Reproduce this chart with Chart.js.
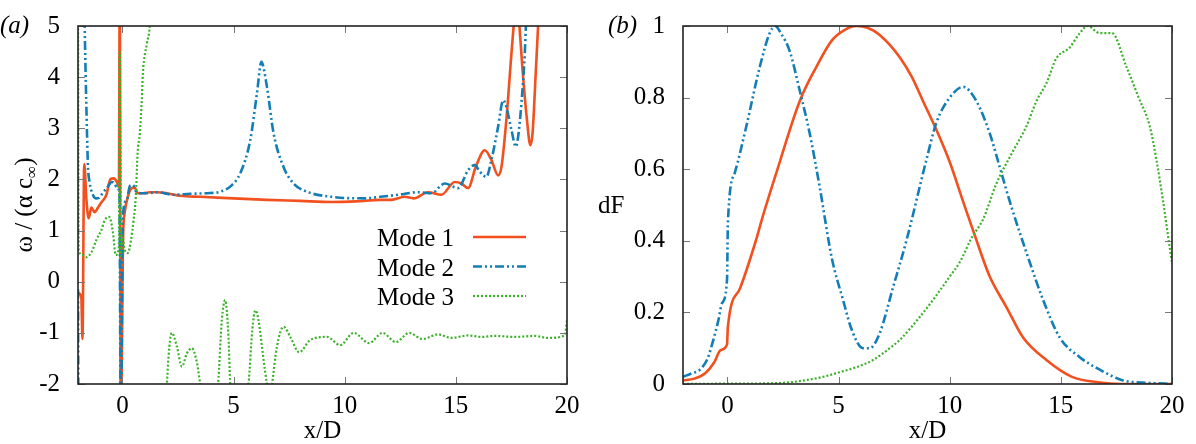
<!DOCTYPE html>
<html>
<head>
<meta charset="utf-8">
<script src="https://cdn.jsdelivr.net/npm/chart.js@4.4.1/dist/chart.umd.min.js"></script>
<style>
  html, body { margin: 0; padding: 0; background: #fff; }
  #wrap { position: relative; width: 1196px; height: 444px; }
  canvas { position: absolute; top: 0; }
  #chartA { left: 0; }
  #chartB { left: 590px; }
</style>
</head>
<body>
<div id="wrap">
  <canvas id="chartA" width="590" height="444"></canvas>
  <canvas id="chartB" width="606" height="444"></canvas>
</div>
<script>
const FONT = "'Liberation Serif', 'Times New Roman', serif";

// --- Series ---
const seriesNames = ['Mode 1', 'Mode 2', 'Mode 3'];
const seriesColors = ['#f2501e', '#137db5', '#3cb22a'];
const seriesDash = [[], [9, 3, 2, 3, 2, 3], [2, 2]];
const seriesWidth = [2.6, 2.6, 2.2];

// --- Ticks ---
const xTickValues = [0, 5, 10, 15, 20];
const omegaTickValues = [-2, -1, 0, 1, 2, 3, 4, 5];
const dfTickValues = [0, 0.2, 0.4, 0.6, 0.8, 1];

// --- Panel (a): omega / (alpha c_inf) ---
const omegaX1 = [-2, -1.85, -1.8, -1.72, -1.62, -1.52, -1.4, -1.25, -1.1, -0.95, -0.72, -0.55, -0.4, -0.25, -0.16, -0.12, -0.08, 0.03, 0.1, 0.24, 0.42, 0.55, 0.7, 0.93, 1.23, 1.55, 2.0, 2.6, 3.5, 5.0, 6.5, 8.0, 9.4, 10.5, 11.6, 12.1, 12.7, 13.1, 13.75, 14.35, 14.95, 15.25, 15.55, 15.9, 16.3, 16.6, 16.9, 17.05, 17.27, 17.5, 17.6, 17.7, 17.8, 17.86, 18.0, 18.2, 18.35, 18.45, 18.6, 18.7, 18.8];
const omegaY1 = [-0.22, -0.3, -1.12, 2.3, 1.6, 1.24, 1.45, 1.36, 1.45, 1.55, 1.7, 2.0, 2.02, 1.95, 1.85, 6, -3, 0.9, 1.35, 1.66, 1.83, 1.84, 1.73, 1.73, 1.75, 1.75, 1.73, 1.68, 1.66, 1.63, 1.6, 1.58, 1.56, 1.57, 1.6, 1.6, 1.66, 1.63, 1.75, 1.7, 1.95, 1.92, 1.83, 2.25, 2.57, 2.38, 2.08, 2.24, 3.16, 4.46, 5.0, 5.6, 5.4, 5.0, 4.14, 3.16, 2.67, 2.9, 4.14, 5.0, 6.0];

const omegaX2 = [-2, -1.98, -1.86, -1.74, -1.7, -1.63, -1.55, -1.48, -1.33, -1.2, -1.05, -0.87, -0.7, -0.48, -0.35, -0.26, -0.14, -0.07, 0.02, 0.2, 0.33, 0.47, 0.63, 0.9, 1.1, 1.55, 2.3, 3.05, 3.8, 4.4, 4.9, 5.3, 5.75, 6.05, 6.25, 6.5, 6.8, 7.25, 7.7, 8.3, 9.4, 10.9, 11.6, 12.4, 13.3, 13.9, 14.5, 15.1, 15.55, 15.85, 16.08, 16.37, 16.6, 16.9, 17.13, 17.27, 17.5, 17.7, 17.8, 17.95, 18.1, 18.15, 18.25];
const omegaY2 = [-0.15, -3, null, 6, 5, 3.55, 2.25, 1.95, 1.7, 1.63, 1.64, 1.75, 1.83, 1.95, 1.92, 1.85, 1.75, -3, 1.3, 1.6, 1.87, 1.89, 1.75, 1.73, 1.73, 1.75, 1.7, 1.72, 1.73, 1.76, 1.88, 2.12, 2.77, 3.68, 4.3, 3.81, 2.9, 2.24, 1.92, 1.76, 1.66, 1.63, 1.66, 1.7, 1.75, 1.73, 1.92, 1.83, 2.18, 2.28, 2.15, 2.05, 2.38, 3.03, 3.55, 3.42, 2.97, 2.64, 2.83, 3.49, 4.46, 5.0, 6.0];

const omegaX3 = [-2, -1.97, -1.8, -1.62, -1.39, -1.17, -0.95, -0.8, -0.6, -0.44, -0.3, -0.16, -0.12, -0.07, 0.0, 0.1, 0.24, 0.38, 0.5, 0.6, 0.68, 0.78, 0.87, 0.92, 1.1, 1.23, 1.3, 1.6, 1.95, 2.0, 2.22, 2.45, 2.67, 2.9, 3.12, 3.35, 3.5, 3.9, 4.3, 4.47, 4.62, 4.77, 4.85, 5.25, 5.67, 5.84, 5.98, 6.12, 6.35, 6.5, 6.62, 6.73, 6.95, 7.25, 7.55, 7.95, 8.45, 9.2, 9.8, 10.4, 11.1, 11.7, 12.3, 12.9, 13.5, 14.2, 14.8, 15.55, 16.15, 16.75, 17.65, 18.55, 19.15, 19.9, 20];
const omegaY3 = [5.5, 0.62, 0.52, 0.48, 0.58, 0.82, 1.01, 1.2, 1.27, 1.0, 0.52, 0.68, 4.5, 0.5, 0.9, 0.62, 0.56, 0.8, 1.2, 1.66, 2.5, 2.9, 3.55, 4.07, 4.66, 5.0, 5.6, null, -2.6, -2.0, -1.0, -1.27, -1.66, -1.4, -1.3, -1.58, -2.0, -2.8, -2.0, -0.75, -0.36, -1.08, -2.0, -2.8, -2.0, -0.95, -0.56, -0.75, -1.53, -2.0, -2.3, -2.0, -1.27, -0.88, -1.08, -1.38, -1.14, -1.08, -1.24, -1.0, -1.2, -1.0, -1.18, -1.0, -1.12, -1.03, -1.1, -1.05, -1.08, -1.06, -1.08, -1.06, -1.1, -1.05, -0.75];

// --- Panel (b): dF ---
const dfX1 = [-2, -1.5, -1, -0.6, -0.3, -0.02, 0.02, 0.55, 1.3, 1.55, 2.2, 3.25, 4.0, 4.7, 5.3, 5.8, 6.3, 6.85, 7.75, 8.3, 8.8, 9.4, 10.0, 10.6, 11.1, 11.8, 12.55, 13.3, 14.35, 15.5, 17, 18, 20];
const dfY1 = [0.01, 0.015, 0.03, 0.06, 0.095, 0.11, 0.16, 0.265, 0.405, 0.46, 0.59, 0.79, 0.886, 0.96, 0.99, 1.0, 0.995, 0.975, 0.913, 0.857, 0.79, 0.71, 0.62, 0.51, 0.42, 0.30, 0.215, 0.13, 0.067, 0.02, 0.003, 0, 0];

const dfX2 = [-2, -1.6, -1.24, -0.9, -0.65, -0.4, -0.25, -0.02, 0.02, 0.33, 0.85, 1.45, 1.9, 2.15, 2.4, 2.8, 3.25, 3.7, 4.15, 4.7, 5.2, 5.6, 6.1, 6.4, 6.85, 7.45, 8.05, 8.95, 9.4, 10.0, 10.6, 11.2, 11.8, 12.25, 12.7, 13.6, 14.2, 14.95, 15.85, 16.75, 17.8, 19, 20];
const dfY2 = [0.02, 0.03, 0.04, 0.07, 0.12, 0.18, 0.225, 0.29, 0.45, 0.59, 0.72, 0.885, 0.98, 1.0, 0.98, 0.93, 0.82, 0.70, 0.55, 0.35, 0.235, 0.15, 0.10, 0.10, 0.142, 0.27, 0.40, 0.626, 0.73, 0.80, 0.83, 0.79, 0.70, 0.606, 0.51, 0.34, 0.235, 0.13, 0.075, 0.04, 0.01, 0.003, 0];

const dfX3 = [-2, 0, 2.0, 3.0, 4.3, 5.05, 5.8, 6.55, 7.3, 7.75, 8.65, 9.25, 10.0, 10.45, 11.0, 11.5, 12.1, 12.8, 13.45, 13.9, 14.35, 14.8, 15.4, 15.85, 16.2, 16.75, 17.3, 17.95, 18.5, 19.0, 19.3, 19.6, 19.9, 20];
const dfY3 = [0, 0.001, 0.002, 0.006, 0.02, 0.033, 0.047, 0.067, 0.10, 0.123, 0.187, 0.235, 0.30, 0.34, 0.41, 0.46, 0.56, 0.645, 0.72, 0.79, 0.84, 0.91, 0.94, 0.98, 1.0, 0.98, 0.98, 0.886, 0.80, 0.72, 0.626, 0.51, 0.38, 0.34];

Chart.defaults.font.family = FONT;
Chart.defaults.font.size = 25;
Chart.defaults.color = '#000';

function buildDatasets(xs, ys) {
    return xs.map((xArr, i) => ({
        label: seriesNames[i],
        data: xArr.map((x, j) => ({ x: x, y: ys[i][j] })),
        borderColor: seriesColors[i],
        borderDash: seriesDash[i],
        borderWidth: seriesWidth[i],
        pointRadius: 0,
        fill: false,
        cubicInterpolationMode: 'monotone',
        spanGaps: false,
        clip: 0,
        order: 2 - i
    }));
}

// frame + inward ticks on all four sides (gnuplot style)
function drawFrame(chart) {
    const { ctx, chartArea: a, scales: { x, y } } = chart;
    ctx.save();
    ctx.strokeStyle = '#777';
    ctx.lineWidth = 1;
    ctx.beginPath();
    x.ticks.forEach(t => {
        const px = Math.round(x.getPixelForValue(t.value)) + 0.5;
        ctx.moveTo(px, a.bottom); ctx.lineTo(px, a.bottom - 7);
        ctx.moveTo(px, a.top); ctx.lineTo(px, a.top + 7);
    });
    y.ticks.forEach(t => {
        const py = Math.round(y.getPixelForValue(t.value)) + 0.5;
        ctx.moveTo(a.left, py); ctx.lineTo(a.left + 7, py);
        ctx.moveTo(a.right, py); ctx.lineTo(a.right - 7, py);
    });
    ctx.stroke();
    ctx.strokeStyle = '#222';
    ctx.lineWidth = 1.6;
    ctx.strokeRect(a.left, a.top, a.right - a.left, a.bottom - a.top);
    ctx.restore();
}

const decorA = {
    id: 'decorA',
    afterDraw(chart) {
        const ctx = chart.ctx;
        drawFrame(chart);
        ctx.save();
        ctx.fillStyle = '#000';
        ctx.textBaseline = 'alphabetic';
        ctx.font = 'italic 25px ' + FONT;
        ctx.fillText('(a)', 0, 33);

        // y title with subscript infinity
        const big = '25px ' + FONT;
        const small = '17px ' + FONT;
        ctx.save();
        ctx.translate(32, 205);
        ctx.rotate(-Math.PI / 2);
        ctx.font = big;
        const w1 = ctx.measureText('ω / (α c').width;
        const w3 = ctx.measureText(')').width;
        ctx.font = small;
        const w2 = ctx.measureText('∞').width;
        const x0 = -(w1 + w2 + w3) / 2;
        ctx.font = big;
        ctx.fillText('ω / (α c', x0, 0);
        ctx.font = small;
        ctx.fillText('∞', x0 + w1, 5);
        ctx.font = big;
        ctx.fillText(')', x0 + w1 + w2, 0);
        ctx.restore();

        // legend: text right-aligned, line sample to the right
        ctx.font = big;
        ctx.textAlign = 'right';
        chart.data.datasets.forEach((ds, i) => {
            const yy = 237 + 29.5 * i;
            ctx.fillStyle = '#000';
            ctx.fillText(ds.label, 454, yy + 9);
            ctx.strokeStyle = ds.borderColor;
            ctx.lineWidth = ds.borderWidth;
            ctx.setLineDash(ds.borderDash);
            ctx.beginPath();
            ctx.moveTo(473, yy);
            ctx.lineTo(526, yy);
            ctx.stroke();
        });
        ctx.restore();
    }
};

const decorB = {
    id: 'decorB',
    afterDraw(chart) {
        const ctx = chart.ctx;
        drawFrame(chart);
        ctx.save();
        ctx.fillStyle = '#000';
        ctx.textBaseline = 'alphabetic';
        ctx.font = 'italic 25px ' + FONT;
        ctx.fillText('(b)', 18, 33);
        ctx.font = '25px ' + FONT;
        ctx.fillText('dF', 8, 213);
        ctx.restore();
    }
};

function makeOptions(yValues, yMin, yMax, yWidth, rightPad) {
    return {
        responsive: false,
        animation: false,
        devicePixelRatio: 1,
        layout: { padding: { top: 26, right: rightPad, left: 0, bottom: 0 } },
        plugins: { legend: { display: false }, tooltip: { enabled: false } },
        scales: {
            x: {
                type: 'linear',
                min: -2,
                max: 20,
                afterBuildTicks: s => { s.ticks = xTickValues.map(v => ({ value: v })); },
                afterFit: s => { s.height = 60; },
                grid: { display: false },
                border: { display: false },
                ticks: { padding: -1, maxRotation: 0, autoSkip: false, callback: v => String(v) },
                title: { display: true, text: 'x/D', padding: 0, font: { size: 25, lineHeight: 1 } }
            },
            y: {
                type: 'linear',
                min: yMin,
                max: yMax,
                afterBuildTicks: s => { s.ticks = yValues.map(v => ({ value: v })); },
                afterFit: s => { s.width = yWidth; },
                grid: { display: false },
                border: { display: false },
                ticks: { padding: 10, autoSkip: false, callback: v => String(v) }
            }
        }
    };
}

new Chart(document.getElementById('chartA').getContext('2d'), {
    type: 'line',
    data: { datasets: buildDatasets([omegaX1, omegaX2, omegaX3], [omegaY1, omegaY2, omegaY3]) },
    options: makeOptions(omegaTickValues, -2, 5, 78, 23),
    plugins: [decorA]
});

new Chart(document.getElementById('chartB').getContext('2d'), {
    type: 'line',
    data: { datasets: buildDatasets([dfX1, dfX2, dfX3], [dfY1, dfY2, dfY3]) },
    options: makeOptions(dfTickValues, 0, 1, 93, 24),
    plugins: [decorB]
});
</script>
</body>
</html>
